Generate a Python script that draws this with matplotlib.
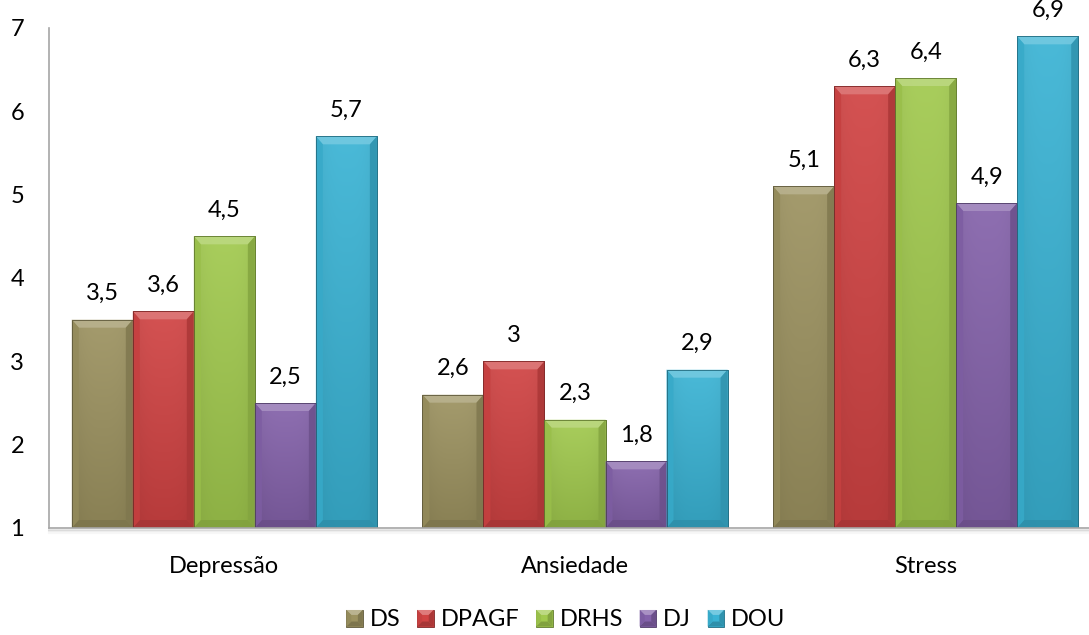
import numpy as np
import matplotlib
matplotlib.use("Agg")
import matplotlib.pyplot as plt
from matplotlib.patches import Polygon, Rectangle
from matplotlib.legend_handler import HandlerBase
from matplotlib.colors import to_rgb
from matplotlib.ticker import FixedLocator

categories = ["Depressão", "Ansiedade", "Stress"]
series = ["DS", "DPAGF", "DRHS", "DJ", "DOU"]
values = {
    "DS":    [3.5, 2.6, 5.1],
    "DPAGF": [3.6, 3.0, 6.3],
    "DRHS":  [4.5, 2.3, 6.4],
    "DJ":    [2.5, 1.8, 4.9],
    "DOU":   [5.7, 2.9, 6.9],
}
colors = {
    "DS": "#9C9260",
    "DPAGF": "#D04343",
    "DRHS": "#A1C94E",
    "DJ": "#8462AA",
    "DOU": "#3AB3D4",
}
yticks = [1, 2, 3, 4, 5, 6, 7]

plt.rcParams['font.family'] = ['Lato', 'DejaVu Sans']

W, H, DPI = 10.89, 6.35, 100
fig = plt.figure(figsize=(W, H), dpi=DPI)
ax_left, ax_bottom = 49 / 1089, (635 - 528) / 635
ax_w, ax_h = 1052 / 1089, 500 / 635
ax = fig.add_axes([ax_left, ax_bottom, ax_w, ax_h])
xlim = (-0.5, 2.5)
ylim = (1, 7)
ax.set_xlim(*xlim)
ax.set_ylim(*ylim)

px_per_x = ax_w * W * DPI / (xlim[1] - xlim[0])
px_per_y = ax_h * H * DPI / (ylim[1] - ylim[0])

bar_w = 0.174
x = np.arange(len(categories))
FS = 17


def mix(c, t, amt):
    c = np.array(to_rgb(c)); t = np.array(to_rgb(t))
    return tuple(c * (1 - amt) + t * amt)


def bevel_parts(x0, y0, w, h, bx, by, base):
    """Return list of (polygon_points, color) for a bevelled rectangle."""
    x1, y1 = x0 + w, y0 + h
    by = min(by, h / 2)
    parts = [
        ([(x0, y1), (x1, y1), (x1 - bx, y1 - by), (x0 + bx, y1 - by)], mix(base, "white", 0.30)),
        ([(x0, y0), (x1, y0), (x1 - bx, y0 + by), (x0 + bx, y0 + by)], mix(base, "black", 0.20)),
        ([(x0, y0), (x0, y1), (x0 + bx, y1 - by), (x0 + bx, y0 + by)], mix(base, "black", 0.05)),
        ([(x1, y0), (x1, y1), (x1 - bx, y1 - by), (x1 - bx, y0 + by)], mix(base, "black", 0.18)),
    ]
    return parts


bx = 7 / px_per_x
by = 8 / px_per_y

for i, s in enumerate(series):
    base = colors[s]
    offs = (i - (len(series) - 1) / 2) * bar_w
    bars = ax.bar(x + offs, [v - ylim[0] for v in values[s]], bar_w, bottom=ylim[0],
                  color=base, edgecolor=mix(base, "black", 0.35), linewidth=0.6, zorder=3)
    for b, v in zip(bars, values[s]):
        x0, y0 = b.get_x(), b.get_y()
        w, h = b.get_width(), b.get_height()
        ny, nx = 64, 32
        yy = np.linspace(1, 0, ny)[:, None]
        xx = np.linspace(-1, 1, nx)[None, :]
        light = mix(base, "white", 0.08)
        dark = mix(base, "black", 0.12)
        t = (1 - yy)
        img = np.array(light)[None, None, :] * (1 - t[..., None]) + np.array(dark)[None, None, :] * t[..., None]
        side = 1 - 0.06 * np.abs(xx) ** 3
        img = np.clip(img * side[..., None], 0, 1)
        im = ax.imshow(img, extent=(x0, x0 + w, y0, y0 + h), aspect='auto',
                       interpolation='bilinear', zorder=3.1)
        im.set_clip_path(b)
        for pts, c in bevel_parts(x0, y0, w, h, bx, by, base):
            ax.add_patch(Polygon(pts, closed=True, facecolor=c, edgecolor='none',
                                 alpha=0.85, zorder=3.2))
        ax.add_patch(Rectangle((x0, y0), w, h, facecolor='none',
                               edgecolor=mix(base, "black", 0.4), linewidth=0.6, zorder=3.3))
        lbl = ("%g" % v).replace(".", ",")
        ax.annotate(lbl, (b.get_x() + w / 2, v), xytext=(0, 26 * 72 / DPI),
                    textcoords='offset points', ha='center', va='center',
                    fontsize=FS, color='black', zorder=5)

ax.set_aspect('auto')
ax.set_xlim(*xlim)
ax.set_ylim(*ylim)

for side in ['top', 'right']:
    ax.spines[side].set_visible(False)
for side in ['left', 'bottom']:
    ax.spines[side].set_color('#A6A6A6')
    ax.spines[side].set_linewidth(1.2)
    ax.spines[side].set_zorder(6)
ax.spines['bottom'].set_clip_on(False)

# soft shadow under the baseline
for k, a in enumerate([0.18, 0.12, 0.06]):
    ax.axhline(ylim[0] - (2 + k * 1.5) / px_per_y, color='#808080', alpha=a,
               linewidth=1.5, zorder=2, clip_on=False)

ax.yaxis.set_major_locator(FixedLocator(yticks))
ax.set_yticklabels([str(t) for t in yticks])
ax.tick_params(axis='y', length=0, pad=18, labelsize=FS)
ax.set_xticks(x)
ax.set_xticklabels(categories)
ax.tick_params(axis='x', length=0, pad=20, labelsize=FS)


class BevelHandler(HandlerBase):
    def create_artists(self, legend, orig_handle, xdescent, ydescent, width, height, fontsize, trans):
        base = orig_handle.get_facecolor()[:3]
        size = min(width, height)
        x0 = -xdescent + (width - size) / 2
        y0 = -ydescent + (height - size) / 2
        arts = [Rectangle((x0, y0), size, size, facecolor=base,
                          edgecolor=mix(base, "black", 0.4), linewidth=0.6, transform=trans)]
        b = size * 0.3
        for pts, c in bevel_parts(x0, y0, size, size, b, b, base):
            arts.append(Polygon(pts, closed=True, facecolor=c, edgecolor='none', transform=trans))
        return arts


handles = [Rectangle((0, 0), 1, 1, facecolor=colors[s]) for s in series]
fig.legend(handles, series, loc='center', bbox_to_anchor=(566 / 1089, 1 - 620 / 635),
           ncol=5, frameon=False, fontsize=FS, handler_map={Rectangle: BevelHandler()},
           handlelength=0.7, handleheight=0.7, handletextpad=0.3, columnspacing=0.7)

fig.savefig("out.png", dpi=DPI)
